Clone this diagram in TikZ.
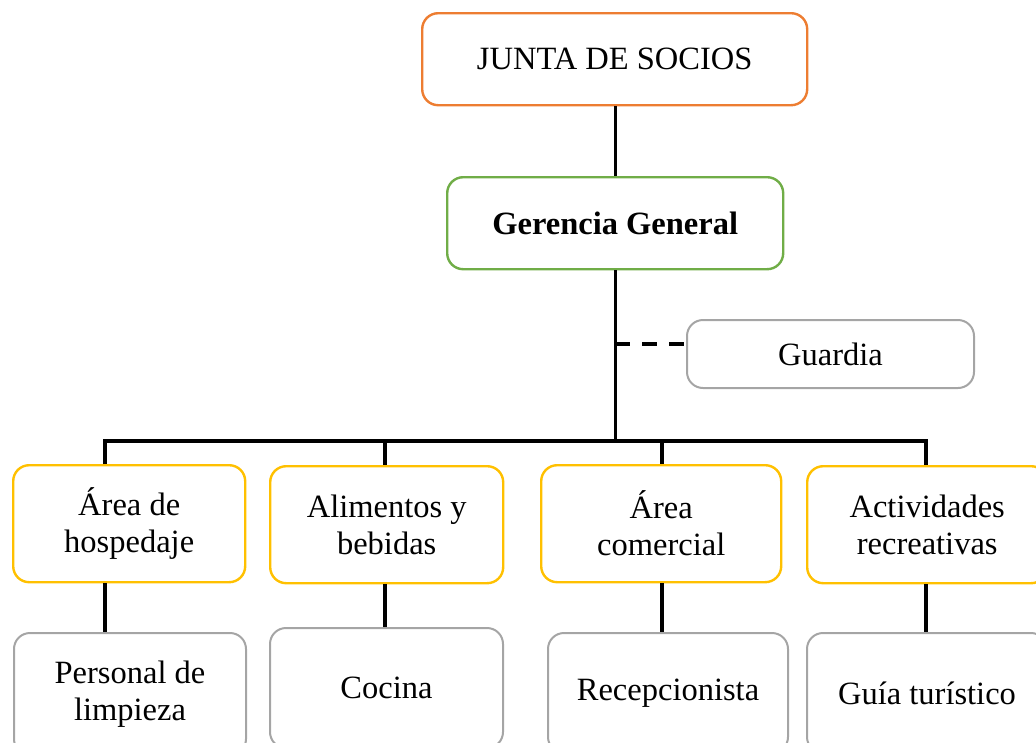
\documentclass[tikz,border=0pt]{standalone}
\usepackage{fontspec}
\setmainfont{Liberation Serif}
\definecolor{borange}{HTML}{ED7D31}
\definecolor{bgreen}{HTML}{70AD47}
\definecolor{byellow}{HTML}{FFC000}
\definecolor{bgray}{HTML}{A5A5A5}
\tikzset{
  orgbox/.style={draw, rounded corners=16pt, line width=2.4pt, align=center,
    inner sep=0pt, anchor=north west, font=\fontsize{32.5}{37}\selectfont},
  conn/.style={line width=3.2pt, line join=miter, black},
}
\begin{document}
\begin{tikzpicture}[x=1pt,y=-1pt]
\useasboundingbox (0,0) rectangle (1036,742);
\clip (0,0) rectangle (1036,742);
\node[orgbox, draw=borange, minimum width=385pt, minimum height=92pt] (junta) at (421,12) {JUNTA DE SOCIOS};
\node[orgbox, draw=bgreen, minimum width=336pt, minimum height=92pt, font=\fontsize{32.5}{37}\selectfont\bfseries] (ger) at (446,176) {Gerencia General};
\node[orgbox, draw=bgray, line width=2pt, minimum width=287pt, minimum height=68pt] (guard) at (686,319) {Guardia};

\node[orgbox, draw=byellow, minimum width=232pt, minimum height=117pt] (a1) at (12,464) {Área de\\hospedaje};
\node[orgbox, draw=byellow, minimum width=233pt, minimum height=117pt] (a2) at (269,465) {Alimentos y\\bebidas};
\node[orgbox, draw=byellow, minimum width=240pt, minimum height=117pt] (a3) at (540,464) {Área\\comercial};
\node[orgbox, draw=byellow, minimum width=240pt, minimum height=117pt] (a4) at (806,465) {Actividades\\recreativas};

\node[orgbox, draw=bgray, line width=2pt, minimum width=232pt, minimum height=122pt] (p1) at (13,632) {Personal de\\limpieza};
\node[orgbox, draw=bgray, line width=2pt, minimum width=233pt, minimum height=120pt] (p2) at (269,627) {Cocina};
\node[orgbox, draw=bgray, line width=2pt, minimum width=240pt, minimum height=120pt] (p3) at (547,632) {Recepcionista};
\node[orgbox, draw=bgray, line width=2pt, minimum width=240pt, minimum height=120pt] (p4) at (806,632) {Guía turístico};

\coordinate (c1) at (105,441);
\coordinate (c2) at (385,441);
\coordinate (c3) at (662,441);
\coordinate (c4) at (926,441);
\coordinate (g) at (686,344);

\draw[conn] (ger.north |- junta.south) -- (ger.north);
\draw[conn] (ger.south) -- (ger.south |- c1);
\draw[conn, dash pattern=on 15pt off 12pt] (ger.south |- g) -- (g);
\draw[conn] (a1.north -| c1) -- (c1) -- (c4) -- (a4.north -| c4);
\draw[conn] (c2) -- (a2.north -| c2);
\draw[conn] (c3) -- (a3.north -| c3);
\draw[conn] (a1.south -| c1) -- (p1.north -| c1);
\draw[conn] (a2.south -| c2) -- (p2.north -| c2);
\draw[conn] (a3.south -| c3) -- (p3.north -| c3);
\draw[conn] (a4.south -| c4) -- (p4.north -| c4);
\end{tikzpicture}
\end{document}
